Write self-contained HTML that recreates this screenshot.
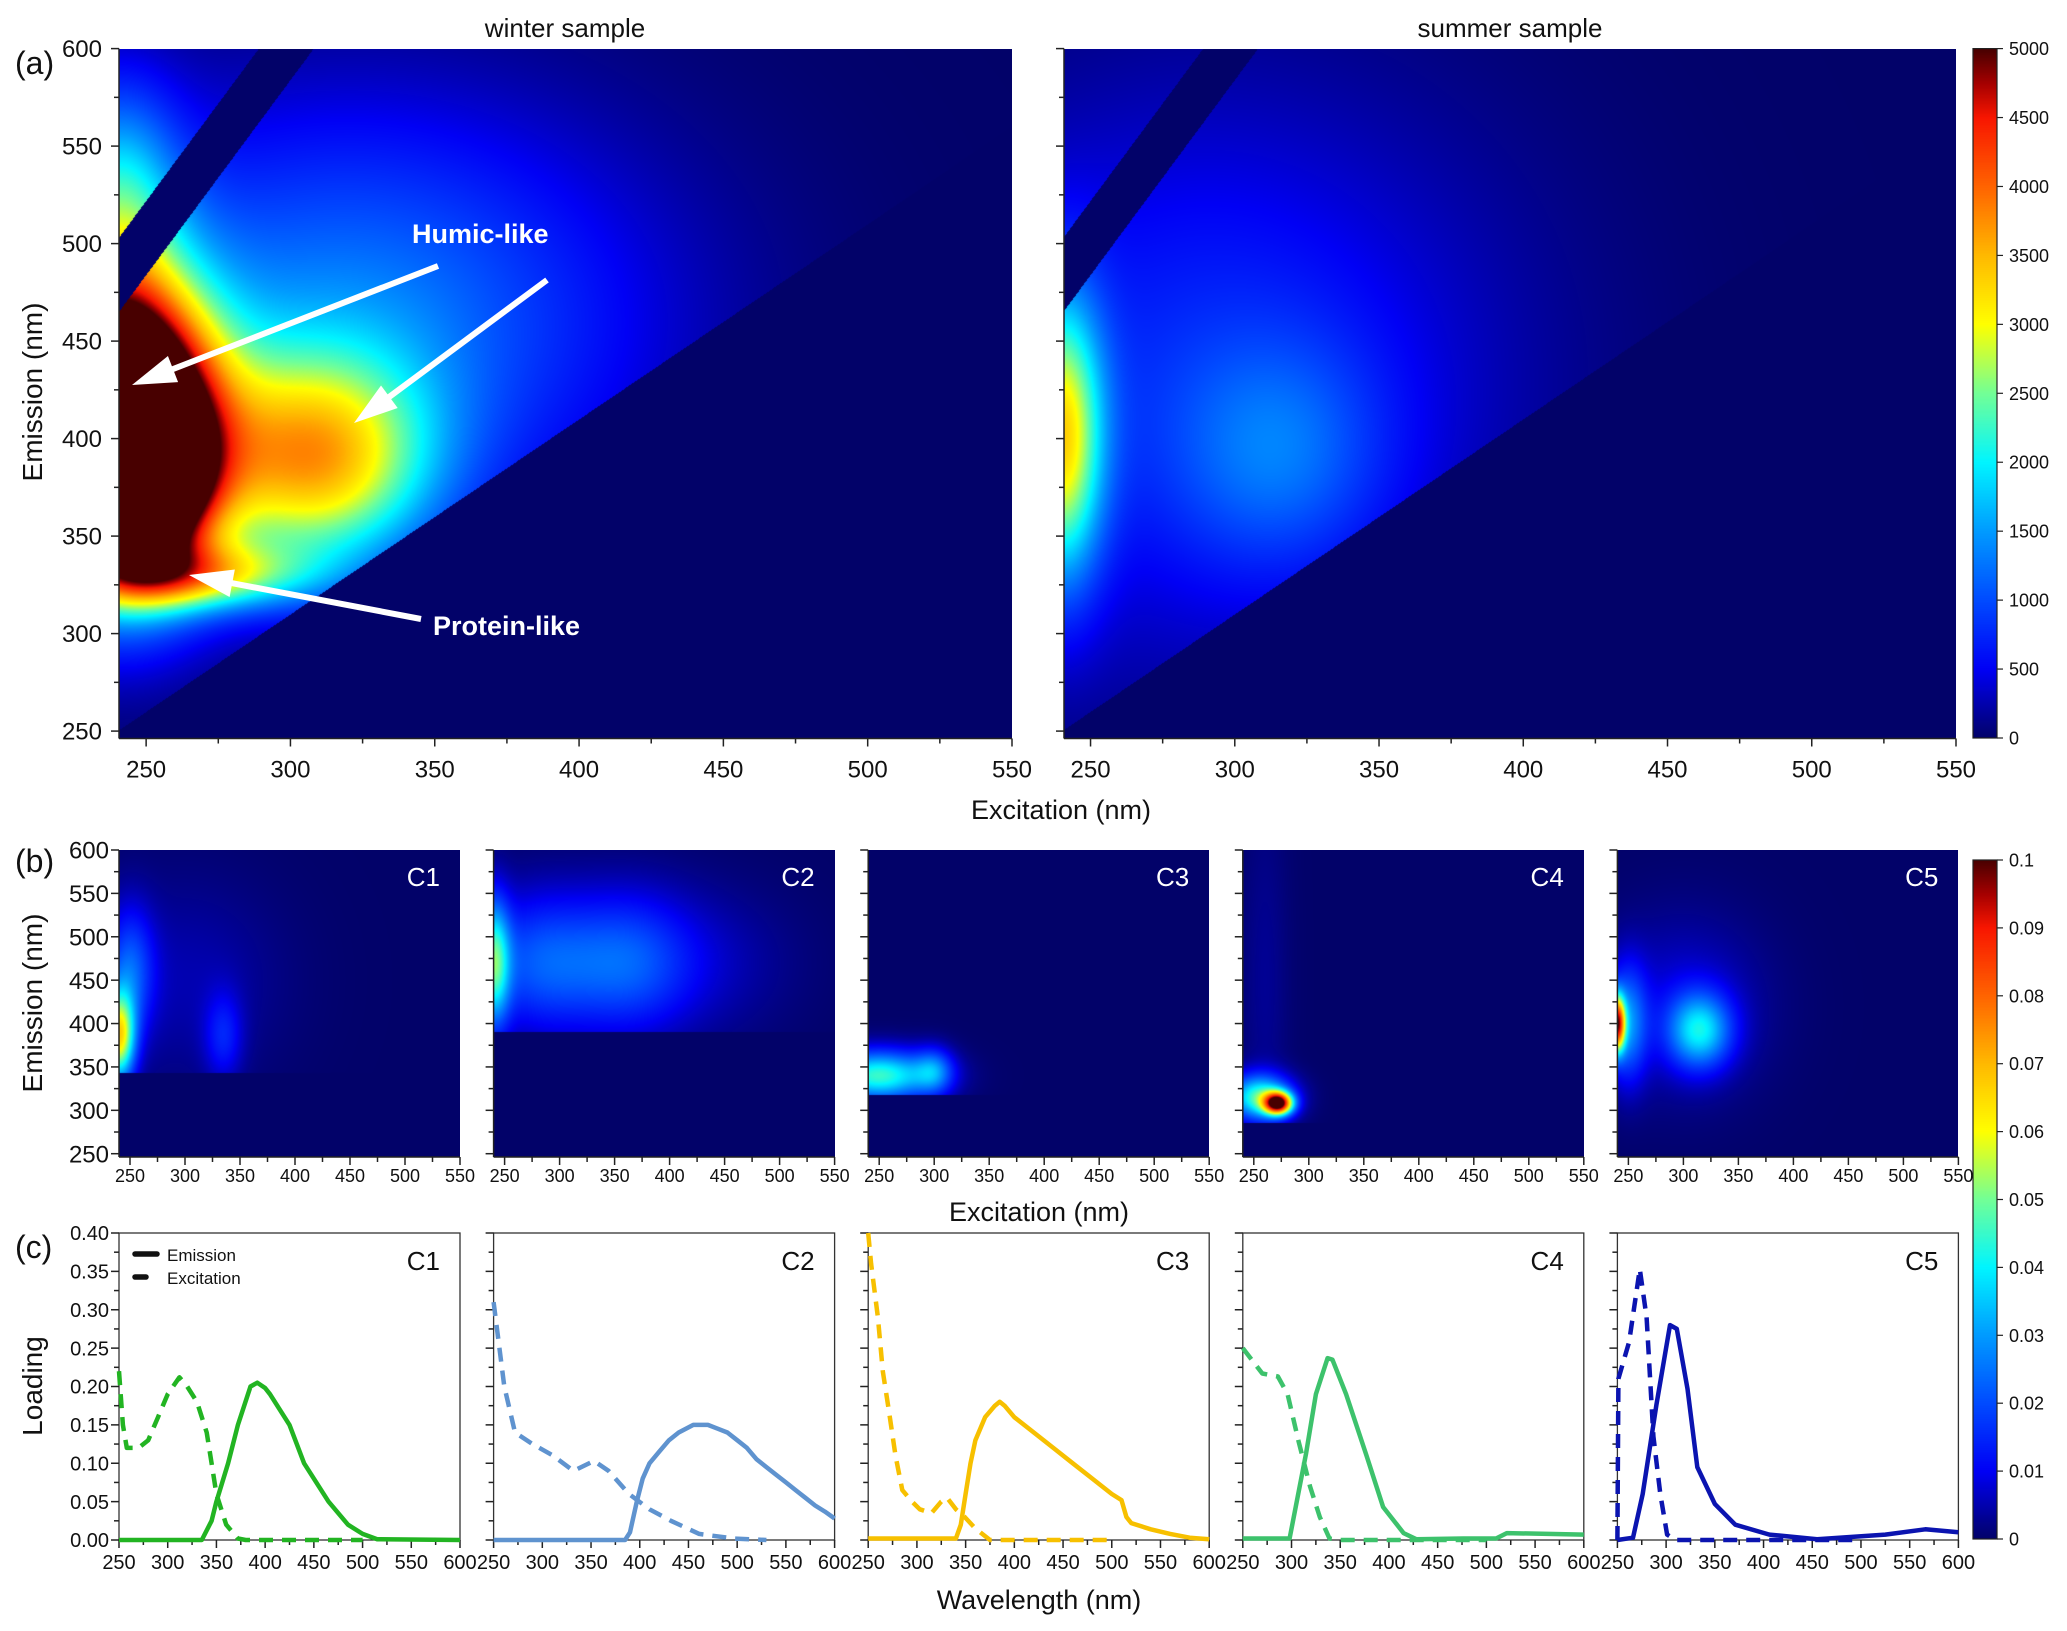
<!DOCTYPE html>
<html><head><meta charset="utf-8">
<style>
body{margin:0;width:2067px;height:1631px;background:#fff;position:relative;overflow:hidden;font-family:"Liberation Sans",Arial,sans-serif}
canvas{position:absolute;display:block}
svg{position:absolute;left:0;top:0}
svg text{font-family:"Liberation Sans",Arial,sans-serif}
</style></head>
<body>
<div id="maps"></div>
<svg id="fig" width="2067" height="1631"></svg>
<script>
// ---------- DATA ----------
const winterPeakEx  = [240, 308, 265, 320, 240, 252];
const winterPeakEm  = [405, 388, 330, 460, 525, 375];
const winterSigEx   = [22, 28, 28, 70, 15, 14];
const winterSigEm   = [50, 38, 12, 75, 40, 28];
const winterAmp     = [9000, 2900, 2200, 1300, 1500, 2500];
const summerPeakEx  = [240, 315, 290];
const summerPeakEm  = [400, 392, 430];
const summerSigEx   = [10, 25, 70];
const summerSigEm   = [50, 40, 100];
const summerAmp     = [2800, 700, 750];
const c1MapEx=[240,250,335,300], c1MapEm=[385,460,385,450], c1MapSx=[10,15,12,60], c1MapSm=[35,50,35,80], c1MapAmp=[0.06,0.02,0.012,0.005], c1MapCut=343;
const c2MapEx=[240,280,360,420], c2MapEm=[470,470,470,470], c2MapSx=[10,40,40,60], c2MapSm=[50,55,55,60], c2MapAmp=[0.04,0.02,0.018,0.006], c2MapCut=390;
const c3MapEx=[250,300], c3MapEm=[340,345], c3MapSx=[35,12], c3MapSm=[20,18], c3MapAmp=[0.045,0.02], c3MapCut=318;
const c4MapEx=[272,255,260], c4MapEm=[308,315,450], c4MapSx=[9,20,15], c4MapSm=[9,18,150], c4MapAmp=[0.09,0.045,0.003], c4MapCut=285;
const c5MapEx=[240,250,315,300], c5MapEm=[400,400,392,420], c5MapSx=[5,12,20,50], c5MapSm=[22,45,30,70], c5MapAmp=[0.08,0.025,0.035,0.008], c5MapCut=250;
const c1EmX=[250,335,345,350,362,372,385,392,400,405,425,440,465,485,500,515,600];
const c1EmY=[0,0,0.025,0.05,0.1,0.15,0.2,0.205,0.198,0.19,0.15,0.1,0.05,0.02,0.008,0.001,0];
const c1ExX=[250,254,258,270,280,290,300,312,320,330,340,345,350,360,372,380,500];
const c1ExY=[0.22,0.15,0.12,0.12,0.13,0.16,0.19,0.212,0.2,0.18,0.14,0.1,0.06,0.02,0.002,0,0];
const c2EmX=[250,385,390,397,403,410,420,430,440,455,470,480,490,500,510,520,530,540,550,560,570,580,590,600];
const c2EmY=[0,0,0.01,0.05,0.08,0.1,0.115,0.13,0.14,0.15,0.15,0.145,0.14,0.13,0.12,0.105,0.095,0.085,0.075,0.065,0.055,0.045,0.037,0.028];
const c2ExX=[250,261,272,290,311,332,353,368,389,410,432,461,496,530];
const c2ExY=[0.31,0.2,0.14,0.125,0.11,0.09,0.103,0.09,0.06,0.04,0.025,0.008,0.002,0];
const c3EmX=[250,340,345,350,355,360,370,380,385,390,400,420,440,460,480,500,510,515,520,540,560,580,600];
const c3EmY=[0.002,0.002,0.02,0.06,0.1,0.13,0.16,0.175,0.18,0.175,0.16,0.14,0.12,0.1,0.08,0.06,0.052,0.03,0.022,0.014,0.008,0.003,0.001];
const c3ExX=[250,253,260,265,271,278,285,295,303,315,325,331,340,349,360,375,500];
const c3ExY=[0.4,0.36,0.29,0.22,0.17,0.11,0.065,0.05,0.04,0.035,0.05,0.055,0.04,0.03,0.015,0,0];
const c4EmX=[250,298,315,325,337,342,356,377,394,415,428,476,510,521,600];
const c4EmY=[0.002,0.002,0.113,0.19,0.237,0.235,0.19,0.11,0.043,0.009,0.001,0.002,0.002,0.009,0.007];
const c4ExX=[250,270,286,296,307,319,329,339,350,500];
const c4ExY=[0.25,0.217,0.213,0.19,0.13,0.07,0.03,0.002,0,0];
const c5EmX=[250,266,276,290,304,311,322,332,350,371,406,455,525,566,600];
const c5EmY=[0,0.003,0.06,0.176,0.28,0.275,0.197,0.095,0.047,0.02,0.007,0.001,0.007,0.014,0.01];
const c5ExX=[250,251,262,273,280,287,294,301,310,500];
const c5ExY=[0,0.21,0.258,0.353,0.29,0.135,0.06,0.007,0,0];
const aExTicks=[250,300,350,400,450,500,550];
const aEmTicks=[250,300,350,400,450,500,550,600];
const cbATicks=[0,500,1000,1500,2000,2500,3000,3500,4000,4500,5000];
const cbBTicks=['0','0.01','0.02','0.03','0.04','0.05','0.06','0.07','0.08','0.09','0.1'];
const bExTicks=[250,300,350,400,450,500,550];
const bEmTicks=[250,300,350,400,450,500,550,600];
const cWlTicks=[250,300,350,400,450,500,550,600];
const cLoadTicks=['0.00','0.05','0.10','0.15','0.20','0.25','0.30','0.35','0.40'];
const compNames=['C1','C2','C3','C4','C5'];
const compColors=['#22b422','#5f93cf','#f7c000','#3dc26c','#0b14b0'];

// ---------- HELPERS ----------
const NS='http://www.w3.org/2000/svg';
const svg=document.getElementById('fig');
const mapsDiv=document.getElementById('maps');
function lin(d0,d1,r0,r1){const f=v=>r0+(v-d0)*(r1-r0)/(d1-d0);f.inv=p=>d0+(p-r0)*(d1-d0)/(r1-r0);return f;}
function mk(tag,parent){const e=document.createElementNS(NS,tag);(parent||svg).appendChild(e);return e;}
function line(x1,y1,x2,y2,w,c,parent){const e=mk('line',parent);e.setAttribute('x1',x1);e.setAttribute('y1',y1);e.setAttribute('x2',x2);e.setAttribute('y2',y2);e.setAttribute('stroke',c||'#222');e.setAttribute('stroke-width',w||1.5);return e;}
function text(str,x,y,size,anchor,parent){const e=mk('text',parent);e.setAttribute('x',x);e.setAttribute('y',y);e.setAttribute('font-size',size);e.setAttribute('text-anchor',anchor||'middle');e.setAttribute('fill','#111');e.textContent=str;return e;}
const stops=[[0,2,2,105],[0.1,0,0,245],[0.2,0,75,255],[0.3,0,155,255],[0.4,0,245,255],[0.5,115,255,150],[0.6,255,255,0],[0.7,255,185,0],[0.8,255,100,0],[0.9,248,22,0],[0.95,165,0,0],[1,72,0,0]];
function cmap(t){if(t<=0)return stops[0].slice(1);if(t>=1)return stops[stops.length-1].slice(1);
 for(let i=1;i<stops.length;i++){if(t<=stops[i][0]){const a=stops[i-1],b=stops[i],f=(t-a[0])/(b[0]-a[0]);return [a[1]+(b[1]-a[1])*f,a[2]+(b[2]-a[2])*f,a[3]+(b[3]-a[3])*f];}}}
function makeCanvas(x0,y0,w,h,name){const c=document.createElement('canvas');c.width=w;c.height=h;c.style.left=x0+'px';c.style.top=y0+'px';mapsDiv.appendChild(c);return c;}
function renderMap(x0,x1,y0,y1,exMin,exMax,emTop,emBot,pe,pm,sx,sm,amp,vmax,mode,cut,name){
 const w=Math.round(x1-x0),h=Math.round(y1-y0);
 const c=makeCanvas(Math.round(x0),Math.round(y0),w,h,name);
 const ctx=c.getContext('2d');const img=ctx.createImageData(w,h);const d=img.data;
 const xs=lin(exMin,exMax,0,w),ys=lin(emTop,emBot,0,h);
 for(let j=0;j<h;j++){const em=ys.inv(j+0.5);
  for(let i=0;i<w;i++){const ex=xs.inv(i+0.5);let v=0;
   for(let k=0;k<pe.length;k++){const a=(ex-pe[k])/sx[k],b=(em-pm[k])/sm[k];v+=amp[k]*Math.exp(-0.5*(a*a+b*b));}
   if(mode==='sample'){if(em<ex+10)v=0;if(Math.abs(em-(2*ex+3))<19)v=0;}
   else{if(em<cut)v=0;}
   const col=cmap(v/vmax);const p=(j*w+i)*4;d[p]=col[0];d[p+1]=col[1];d[p+2]=col[2];d[p+3]=255;}}
 ctx.putImageData(img,0,0);}
function xTicks(xs,yb,min,max,major,minor,labels,fs,off,parent,showLab){
 for(let v=min;v<=max+0.001;v+=minor){const isMaj=Math.abs((v-min)%major)<0.001||Math.abs((v-min)%major-major)<0.001;
  line(xs(v),yb,xs(v),yb+(isMaj?8:5),1.5,'#222',parent);}
 if(showLab)labels.forEach(l=>{text(String(l),xs(+l),yb+off,fs,'middle',parent);});}
function yTicks(ys,xl,min,max,major,minor,labels,fs,rx,parent,showLab){
 for(let v=min;v<=max+1e-6;v+=minor){const r=(v-min)/major;const isMaj=Math.abs(r-Math.round(r))<1e-6;
  line(xl,ys(v),xl-(isMaj?8:5),ys(v),1.5,'#222',parent);}
 if(showLab)labels.forEach(l=>{text(String(l),rx,ys(+l)+fs*0.36,fs,'end',parent);});}

// ---------- PANEL (a) ----------
const gA=mk('g');
const wX=lin(240.6,550,119,1012), wY=lin(600,246.2,48.6,738.5);
renderMap(119,1012,48.6,738.5,240.6,550,600,246.2,winterPeakEx,winterPeakEm,winterSigEx,winterSigEm,winterAmp,5000,'sample',0,'winter-eem-heatmap');
const sX=lin(240.8,550,1064,1956), sY=wY;
renderMap(1064,1956,48.6,738.5,240.8,550,600,246.2,summerPeakEx,summerPeakEm,summerSigEx,summerSigEm,summerAmp,5000,'sample',0,'summer-eem-heatmap');
[[wX,119,1012,true],[sX,1064,1956,false]].forEach(([xs,l,r,lab])=>{
 line(l,738.5,r,738.5,1.5,'#222',gA);line(l,48.6,l,738.5,1.5,'#222',gA);
 xTicks(xs,738.5,250,550,50,25,aExTicks,24,39,gA,true);
 yTicks(wY,l,250,600,50,25,aEmTicks,24,102,gA,lab);});
let t;
t=text('winter sample',565,37,26,'middle',gA);
t=text('summer sample',1510,37,26,'middle',gA);
t=text('(a)',15,74,32,'start',gA);
t=text('Emission (nm)',0,0,28,'middle',gA);t.setAttribute('transform','translate(42,392) rotate(-90)');
t=text('Excitation (nm)',1061,819,27,'middle',gA);
function arrow(x1,y1,x2,y2,name){const g=mk('g',gA);
 const dx=x2-x1,dy=y2-y1,L=Math.hypot(dx,dy),ux=dx/L,uy=dy/L,hl=44,hw=14;
 const bx=x2-ux*hl,by=y2-uy*hl;line(x1,y1,bx+ux*4,by+uy*4,6,'#fff',g);
 const p=mk('polygon',g);p.setAttribute('points',`${x2},${y2} ${bx-uy*hw},${by+ux*hw} ${bx+uy*hw},${by-ux*hw}`);p.setAttribute('fill','#fff');}
arrow(438,266,132,385,'humic-arrow-1');
arrow(547,280,354,423,'humic-arrow-2');
arrow(421,619,189,575,'protein-arrow');
t=text('Humic-like',412,243,27,'start',gA);t.setAttribute('fill','#fff');t.setAttribute('font-weight','bold');
t=text('Protein-like',433,635,27,'start',gA);t.setAttribute('fill','#fff');t.setAttribute('font-weight','bold');

function colorbar(y0,y1,labels,vmax,name){
 const c=makeCanvas(1973,Math.round(y0),24,Math.round(y1-y0),name);const ctx=c.getContext('2d');
 for(let j=0;j<c.height;j++){const col=cmap(1-(j+0.5)/c.height);ctx.fillStyle=`rgb(${col.map(Math.round).join(',')})`;ctx.fillRect(0,j,24,1);}
 const g=mk('g');
 const r=mk('rect',g);r.setAttribute('x',1973);r.setAttribute('y',y0);r.setAttribute('width',24);r.setAttribute('height',y1-y0);r.setAttribute('fill','none');r.setAttribute('stroke','#222');r.setAttribute('stroke-width',1.2);
 const ys=lin(0,vmax,y1,y0);
 labels.forEach(l=>{line(1997,ys(+l),2003,ys(+l),1.2,'#222',g);text(String(l),2009,ys(+l)+6.5,18,'start',g);});}
colorbar(48.6,738,cbATicks,5000,'colorbar-a');
colorbar(860,1539,cbBTicks,0.1,'colorbar-b');

// ---------- PANEL (b) ----------
const lefts=[119,493.6,868.2,1242.8,1617.4];
const mapEx=[c1MapEx,c2MapEx,c3MapEx,c4MapEx,c5MapEx],mapEm=[c1MapEm,c2MapEm,c3MapEm,c4MapEm,c5MapEm],mapSx=[c1MapSx,c2MapSx,c3MapSx,c4MapSx,c5MapSx],mapSm=[c1MapSm,c2MapSm,c3MapSm,c4MapSm,c5MapSm],mapAmp=[c1MapAmp,c2MapAmp,c3MapAmp,c4MapAmp,c5MapAmp],mapCut=[c1MapCut,c2MapCut,c3MapCut,c4MapCut,c5MapCut];
const gB=mk('g');
const bY=lin(600,246.2,850,1157);
lefts.forEach((L,i)=>{
 renderMap(L,L+341,850,1157,240,550,600,246.2,mapEx[i],mapEm[i],mapSx[i],mapSm[i],mapAmp[i],0.1,'comp',mapCut[i],'component-map-'+compNames[i].toLowerCase());
 const xs=lin(240,550,L,L+341);
 line(L,1157,L+341,1157,1.5,'#222',gB);line(L,850,L,1157,1.5,'#222',gB);
 xTicks(xs,1157,250,550,50,25,bExTicks,18,25,gB,true);
 yTicks(bY,L,250,600,50,25,bEmTicks,24,109,gB,i===0);
 const lb=text(compNames[i],L+321,886,26,'end',gB);lb.setAttribute('fill','#fff');
});
t=text('(b)',15,872,32,'start',gB);
t=text('Emission (nm)',0,0,28,'middle',gB);t.setAttribute('transform','translate(42,1003) rotate(-90)');
t=text('Excitation (nm)',1039,1221,27,'middle',gB);

// ---------- PANEL (c) ----------
const gC=mk('g');
const cY=lin(0,0.4,1540,1233);
const emX=[c1EmX,c2EmX,c3EmX,c4EmX,c5EmX],emY=[c1EmY,c2EmY,c3EmY,c4EmY,c5EmY],exX=[c1ExX,c2ExX,c3ExX,c4ExX,c5ExX],exY=[c1ExY,c2ExY,c3ExY,c4ExY,c5ExY];
lefts.forEach((L,i)=>{
 const xs=lin(250,600,L,L+341);
 const g=mk('g',gC);
 const r=mk('rect',g);r.setAttribute('x',L);r.setAttribute('y',1233);r.setAttribute('width',341);r.setAttribute('height',307);r.setAttribute('fill','none');r.setAttribute('stroke','#333');r.setAttribute('stroke-width',1.3);
 xTicks(xs,1540,250,600,50,25,cWlTicks,20,29,g,true);
 yTicks(cY,L,0,0.4,0.05,0.025,cLoadTicks,20,109,g,i===0);
 const pe=mk('polyline',g);pe.setAttribute('points',exX[i].map((x,k)=>xs(x).toFixed(1)+','+cY(exY[i][k]).toFixed(1)).join(' '));
 pe.setAttribute('fill','none');pe.setAttribute('stroke',compColors[i]);pe.setAttribute('stroke-width',4.5);pe.setAttribute('stroke-dasharray','14 9');pe.setAttribute('stroke-linejoin','round');
 
 
 const pm=mk('polyline',g);pm.setAttribute('points',emX[i].map((x,k)=>xs(x).toFixed(1)+','+cY(emY[i][k]).toFixed(1)).join(' '));
 pm.setAttribute('fill','none');pm.setAttribute('stroke',compColors[i]);pm.setAttribute('stroke-width',4.5);pm.setAttribute('stroke-linejoin','round');
 
 
 const lb=text(compNames[i],L+321,1270,26,'end',g);
});
const lg=mk('g',gC);
line(135,1254,157,1254,5.5,'#111',lg).setAttribute('stroke-linecap','round');
line(135,1277,146,1277,5.5,'#111',lg).setAttribute('stroke-linecap','round');
t=text('Emission',167,1261,17,'start',lg);
t=text('Excitation',167,1284,17,'start',lg);
t=text('(c)',15,1258,32,'start',gC);
t=text('Loading',0,0,28,'middle',gC);t.setAttribute('transform','translate(42,1386) rotate(-90)');
t=text('Wavelength (nm)',1039,1609,27,'middle',gC);
</script>
</body></html>
